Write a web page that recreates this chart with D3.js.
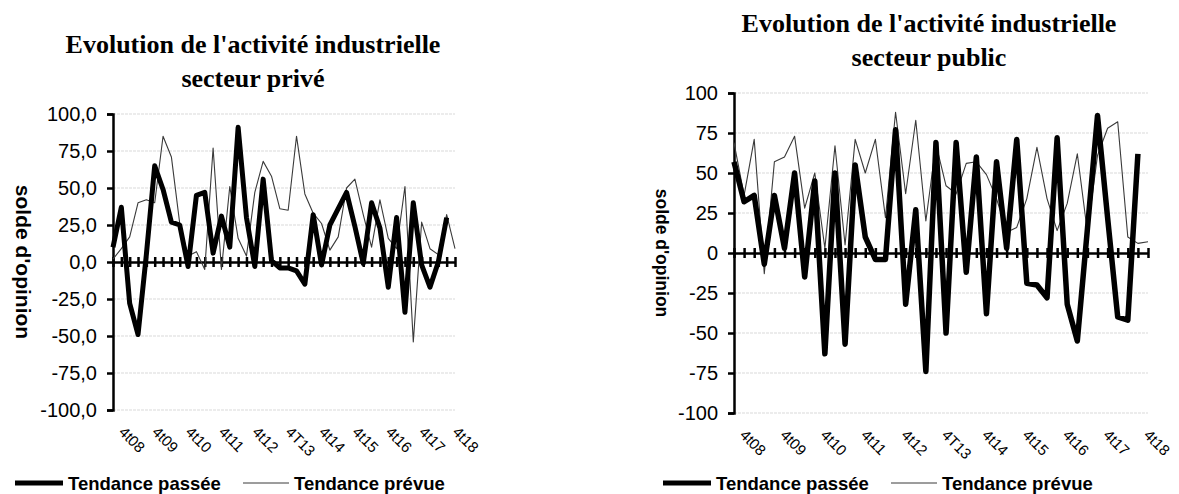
<!DOCTYPE html>
<html>
<head>
<meta charset="utf-8">
<script src="https://cdn.jsdelivr.net/npm/d3@7"></script>
<style>
    body { margin: 0; background: #fff; }
    svg { display: block; }
</style>
</head>
<body>
<div id="chart"></div>
<script>
    // quarters, one point each
    var categories = ["4t08", "1t09", "2t09", "3t09", "4t09", "1t10", "2t10", "3t10", "4t10",
        "1t11", "2t11", "3t11", "4t11", "1t12", "2t12", "3t12", "4t12",
        "1T13", "2T13", "3T13", "4T13", "1t14", "2t14", "3t14", "4t14",
        "1t15", "2t15", "3t15", "4t15", "1t16", "2t16", "3t16", "4t16",
        "1t17", "2t17", "3t17", "4t17", "1t18", "2t18", "3t18", "4t18", "1t19"];
    var tickLabels = ["4t08", "4t09", "4t10", "4t11", "4t12", "4T13", "4t14", "4t15", "4t16", "4t17", "4t18"];
    var yTicks = [-100, -75, -50, -25, 0, 25, 50, 75, 100];

    var privePassee = [10, 37, -28, -49, 5, 65, 49, 27, 25, -3, 45, 47, 6, 31, 10, 91, 30, -3, 56, 1,
        -4, -4, -6, -15, 32, -2, 25, 36, 47, 24, -1, 40, 23, -17, 30, -34, 40, -2, -17, 0, 30, null];
    var privePrevue = [2, 9, 17, 40, 42, 40, 85, 71, 26, 4, 7, -5, 77, -5, 51, 16, 4, 47, 68, 58,
        36, 35, 85, 46, 33, 26, 8, 17, 50, 56, 32, 10, 42, 16, 9, 51, -54, 27, 9, 5, 32, 9];

    var publicPassee = [57, 32, 36, -7, 36, 3, 50, -15, 45, -63, 50, -57, 55, 10, -4, -4, 77, -32, 27, -74,
        69, -50, 69, -12, 60, -38, 57, 3, 71, -19, -20, -28, 72, -32, -55, 15, 86, 22, -40, -42, 62, null];
    var publicPrevue = [69, 36, 71, -13, 57, 60, 73, 28, 50, 3, 67, 5, 71, 50, 71, 22, 88, 37, 83, 20,
        68, 42, 37, 56, 57, 49, 34, 13, 16, 34, 66, 34, 14, 31, 62, 13, 61, 78, 82, 10, 6, 7];

    var W = 1179, H = 494;
    var svg = d3.select("#chart").append("svg").attr("width", W).attr("height", H);

    drawPanel({
        titles: ["Evolution de l'activité industrielle", "secteur privé"],
        titleX: 253, titleY: [53, 87],
        left: 113, right: 455, top: 114, bottom: 410,
        yLabelX: 23, yLabelSize: 21,
        fmt: function(d) { return d.toFixed(1).replace(".", ","); },
        passee: privePassee, prevue: privePrevue, thick: 5,
        legend: {x: 15, y: 483}
    });

    drawPanel({
        titles: ["Evolution de l'activité industrielle", "secteur public"],
        titleX: 929, titleY: [32, 66],
        left: 734, right: 1148, top: 93, bottom: 413,
        yLabelX: 662, yLabelSize: 17.5,
        fmt: function(d) { return String(d); },
        passee: publicPassee, prevue: publicPrevue, thick: 5.5,
        legend: {x: 663, y: 483}
    });

    function drawPanel(cfg) {
        var g = svg.append("g");
        var x = d3.scalePoint().domain(categories).range([cfg.left, cfg.right]).padding(0);
        var y = d3.scaleLinear().domain([-100, 100]).range([cfg.bottom, cfg.top]);

        // title, two lines
        g.append("text")
            .attr("text-anchor", "middle")
            .style("font-family", "'Liberation Serif', 'Times New Roman', serif")
            .style("font-weight", "bold").style("font-size", "26px")
            .selectAll("tspan").data(cfg.titles).enter().append("tspan")
            .attr("x", cfg.titleX)
            .attr("y", function(d, i) { return cfg.titleY[i]; })
            .text(function(d) { return d; });

        // gridlines
        g.append("g").selectAll("line").data(yTicks.filter(function(d) { return d !== 0; }))
            .enter().append("line")
            .attr("x1", cfg.left).attr("x2", cfg.right)
            .attr("y1", function(d) { return y(d); }).attr("y2", function(d) { return y(d); })
            .attr("stroke", "#d9d9d9").attr("stroke-width", 1).attr("stroke-dasharray", "3,1");

        // y axis
        var yAxis = g.append("g").attr("transform", "translate(" + cfg.left + ",0)")
            .call(d3.axisLeft(y).tickValues(yTicks).tickFormat(cfg.fmt).tickSize(6).tickPadding(10));
        yAxis.select(".domain").attr("stroke", "#000").attr("stroke-width", 2.5);
        yAxis.selectAll(".tick line").attr("stroke", "#000").attr("stroke-width", 2.5);
        yAxis.selectAll(".tick text")
            .style("font-family", "'Liberation Sans', Arial, sans-serif")
            .style("font-size", "20px").attr("fill", "#000");

        // y axis title
        g.append("text")
            .attr("transform", "translate(" + cfg.yLabelX + "," + ((cfg.top + cfg.bottom) / 2) + ") rotate(90)")
            .attr("text-anchor", "middle").attr("dy", "0.35em")
            .style("font-family", "'Liberation Sans', Arial, sans-serif")
            .style("font-weight", "bold").style("font-size", cfg.yLabelSize + "px")
            .text("solde d'opinion");

        // x axis at zero, ticks crossing the line
        var xAxis = g.append("g").attr("transform", "translate(0," + y(0) + ")")
            .call(d3.axisBottom(x).tickSizeInner(5).tickSizeOuter(0).tickFormat(""));
        xAxis.select(".domain").attr("stroke", "#000").attr("stroke-width", 2.5);
        xAxis.selectAll(".tick line").attr("y1", -5).attr("y2", 5)
            .attr("stroke", "#000").attr("stroke-width", 2.5);

        // category labels at the low position
        g.append("g").selectAll("text").data(tickLabels).enter().append("text")
            .attr("transform", function(d) { return "translate(" + (x(d) + 5) + "," + (cfg.bottom + 23) + ") rotate(45)"; })
            .style("font-family", "'Liberation Sans', Arial, sans-serif")
            .style("font-size", "15px")
            .text(function(d) { return d; });

        var line = d3.line()
            .defined(function(d) { return d != null; })
            .x(function(d, i) { return x(categories[i]); })
            .y(function(d) { return y(d); });

        g.append("path").datum(cfg.prevue).attr("d", line)
            .attr("fill", "none").attr("stroke", "#3a3a3a").attr("stroke-width", 1.1)
            .attr("stroke-linejoin", "round");
        g.append("path").datum(cfg.passee).attr("d", line)
            .attr("fill", "none").attr("stroke", "#000").attr("stroke-width", cfg.thick)
            .attr("stroke-linejoin", "round");

        // legend
        var lg = g.append("g").attr("transform", "translate(" + cfg.legend.x + "," + cfg.legend.y + ")")
            .style("font-family", "'Liberation Sans', Arial, sans-serif")
            .style("font-weight", "bold").style("font-size", "18.5px");
        lg.append("line").attr("x1", 0).attr("x2", 48).attr("stroke", "#000").attr("stroke-width", 5);
        lg.append("text").attr("x", 53).attr("y", 7).text("Tendance passée");
        lg.append("line").attr("x1", 228).attr("x2", 274).attr("stroke", "#3a3a3a").attr("stroke-width", 1);
        lg.append("text").attr("x", 279).attr("y", 7).text("Tendance prévue");
    }
</script>
</body>
</html>
